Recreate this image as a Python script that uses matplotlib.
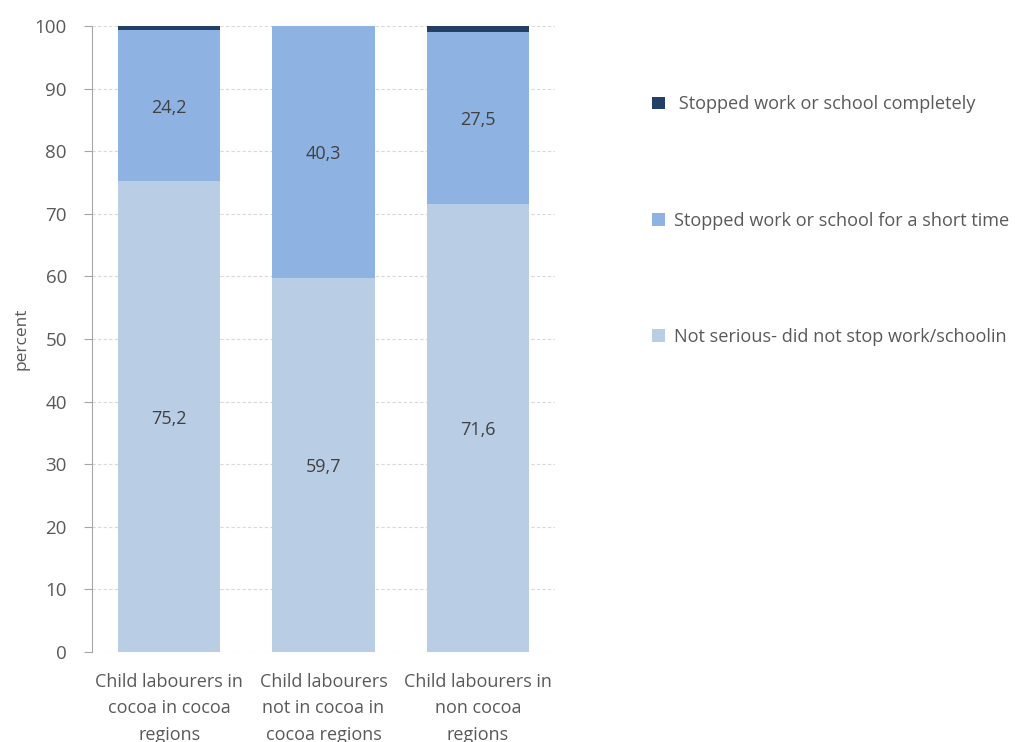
import matplotlib
matplotlib.use("Agg")
import matplotlib.pyplot as plt
from matplotlib.patches import Patch
import numpy as np

categories = ["Child labourers in\ncocoa in cocoa\nregions",
              "Child labourers\nnot in cocoa in\ncocoa regions",
              "Child labourers in\nnon cocoa\nregions"]
not_serious = [75.2, 59.7, 71.6]
short_time = [24.2, 40.3, 27.5]
completely = [0.6, 0.0, 0.9]
series_names = [" Stopped work or school completely",
                "Stopped work or school for a short time",
                "Not serious- did not stop work/schoolin"]
colors = ["#243F66", "#8EB3E2", "#B9CDE5"]

plt.rcParams['font.family'] = ['Open Sans', 'DejaVu Sans']
txt = "#595959"

fig = plt.figure(figsize=(10.15, 7.42), dpi=100)
ax = fig.add_axes([92/1015, 1-652/742, (555-92)/1015, (652-26)/742])

x = np.arange(len(categories))
w = 0.665
ns = np.array(not_serious); st = np.array(short_time); cp = np.array(completely)
ax.bar(x, ns, w, color=colors[2], zorder=2)
ax.bar(x, st, w, bottom=ns, color=colors[1], zorder=2)
ax.bar(x, cp, w, bottom=ns+st, color=colors[0], zorder=2)

def fmt(v):
    return f"{v:.1f}".replace(".", ",")
for i in range(len(x)):
    ax.text(x[i], ns[i]/2, fmt(ns[i]), ha='center', va='center_baseline', fontsize=13, color="#404040")
    ax.text(x[i], ns[i]+st[i]/2, fmt(st[i]), ha='center', va='center_baseline', fontsize=13, color="#404040")

ax.set_xlim(-0.5, 2.5)
ax.set_ylim(0, 100)
ax.set_yticks(range(0, 101, 10))
ax.set_xticks(x)
ax.set_xticklabels(categories, fontsize=13, color=txt, linespacing=1.6)
ax.tick_params(axis='y', labelsize=13.5, labelcolor=txt, length=6, color="#A6A6A6", pad=12)
ax.tick_params(axis='x', length=0, pad=15)
ax.yaxis.grid(True, linestyle=(0, (3, 2)), color="#D9D9D9", linewidth=0.8, zorder=0)
for s in ['top', 'right', 'bottom']:
    ax.spines[s].set_visible(False)
ax.spines['left'].set_color("#A6A6A6")
ax.spines['left'].set_linestyle((0, (2, 1)))
ax.spines['left'].set_linewidth(0.8)
ax.set_ylabel("percent", fontsize=12.5, color=txt, labelpad=4)

handles = [Patch(facecolor=c) for c in colors]
fig.legend(handles, series_names, loc='upper left', bbox_to_anchor=(645/1015, 1-88/742),
           frameon=False, fontsize=13.1, labelcolor=txt, labelspacing=5.4,
           handlelength=0.7, handleheight=0.7, handletextpad=0.5, borderaxespad=0)

fig.savefig("out.png", dpi=100)
